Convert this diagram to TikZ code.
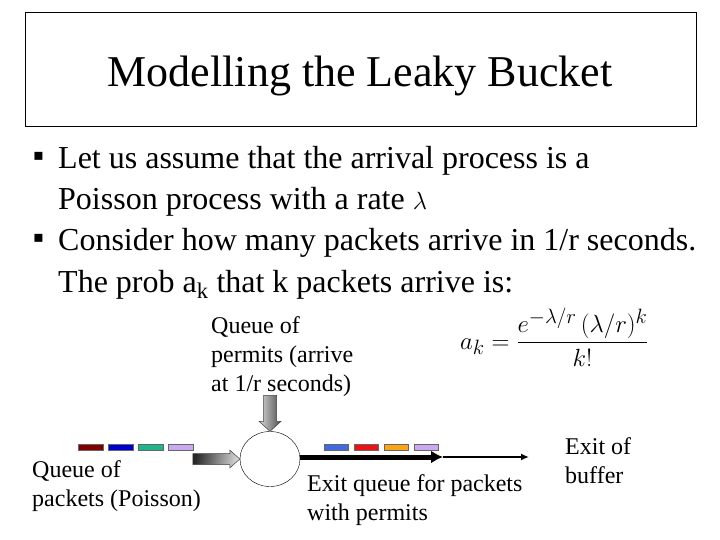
\documentclass[tikz,border=0pt]{standalone}
\usepackage{amsmath}
\usepackage{fontspec}
\setmainfont{Liberation Serif}
\newfontfamily\symfont{DejaVu Sans}
\usetikzlibrary{shapes.geometric,arrows.meta}
\definecolor{qdred}{RGB}{128,0,0}
\definecolor{qblue}{RGB}{0,0,205}
\definecolor{qteal}{RGB}{30,180,140}
\definecolor{qlav}{RGB}{200,170,240}
\definecolor{qroyal}{RGB}{65,105,225}
\definecolor{qred}{RGB}{235,20,20}
\definecolor{qorange}{RGB}{250,165,20}
\tikzset{
  bodyline/.style={anchor=base west, inner sep=0pt, font=\fontsize{32}{38}\selectfont},
  bullet/.style={anchor=base west, inner sep=0pt, font=\symfont\fontsize{16}{20}\selectfont},
  lbl/.style={anchor=north west, inner sep=0pt, align=left, font=\fontsize{24}{29}\selectfont},
  pkt/.style={draw=black!60, line width=0.4pt},
  gradarrow/.style={draw=black!75, line width=0.5pt},
}
\begin{document}
\begin{tikzpicture}[x=1pt, y=-1pt]
  \useasboundingbox (0,0) rectangle (720,540);
  % title box
  \draw[thin] (25,12) rectangle (696,126);
  \node[anchor=base, inner sep=0pt, font=\fontsize{44}{52}\selectfont] (title) at (360,87) {Modelling the Leaky Bucket};
  % bullets
  \node[bullet] (b1) at (33,161) {▪};
  \node[bodyline] (l1) at (58,169) {Let us assume that the arrival process is a};
  \node[bodyline] (l2) at (58,210) {Poisson process with a rate $\lambda$};
  \node[bullet] (b2) at (33,243) {▪};
  \node[bodyline] (l3) at (58,251) {Consider how many packets arrive in 1/r seconds.};
  \node[bodyline] (l4) at (58,292) {The prob a\textsubscript{k} that k packets arrive is:};
  % formula
  \node[anchor=west, inner sep=0pt, font=\fontsize{28.5}{34}\selectfont] (ak) at (460,337)
    {$a_k = \dfrac{e^{-\lambda/r}\,(\lambda/r)^k}{k!}$};
  % labels
  \node[lbl] (permits) at (211,316) {Queue of\\permits (arrive\\at 1/r seconds)};
  \node[lbl] (pktq) at (32,460) {Queue of\\packets (Poisson)};
  \node[lbl] (exitq) at (307,474) {Exit queue for packets\\with permits};
  \node[lbl] (exitb) at (565,437) {Exit of\\buffer};
  % server
  \node[draw, thin, ellipse, minimum width=60pt, minimum height=55pt, inner sep=0pt] (srv) at (270,459) {};
  % packets waiting (left) and leaving (right)
  \foreach \c [count=\i] in {qdred,qblue,qteal,qlav}
    \filldraw[pkt, fill=\c] (48+30*\i,444) rectangle ++(25,6);
  \foreach \c [count=\i] in {qroyal,qred,qorange,qlav}
    \filldraw[pkt, fill=\c] (294+30*\i,444) rectangle ++(24,6);
  % shaded arrows into the server
  \begin{scope}[shift={(srv.west)}]
    \shade[gradarrow, left color=black!85, right color=black!15, shading angle=80]
      (0,0) -- (-10,-9) -- (-10,-5.5) -- (-47,-5.5) -- (-47,5.5) -- (-10,5.5) -- (-10,9) -- cycle;
  \end{scope}
  \begin{scope}[shift={(srv.north)}]
    \shade[gradarrow, left color=black!15, right color=black!70]
      (0,0) -- (-11,-10) -- (-6.5,-10) -- (-6.5,-36) -- (6.5,-36) -- (6.5,-10) -- (11,-10) -- cycle;
  \end{scope}
  % exit
  \coordinate (thickend) at (443,457);
  \coordinate (exitend) at (529,457);
  \draw[line width=5pt, -{Latex[length=12pt,width=13pt]}] (srv.east |- thickend) -- (thickend);
  \draw[line width=1.6pt, -{Latex[length=8pt,width=7pt]}] (thickend) -- (exitend);
\end{tikzpicture}
\end{document}
